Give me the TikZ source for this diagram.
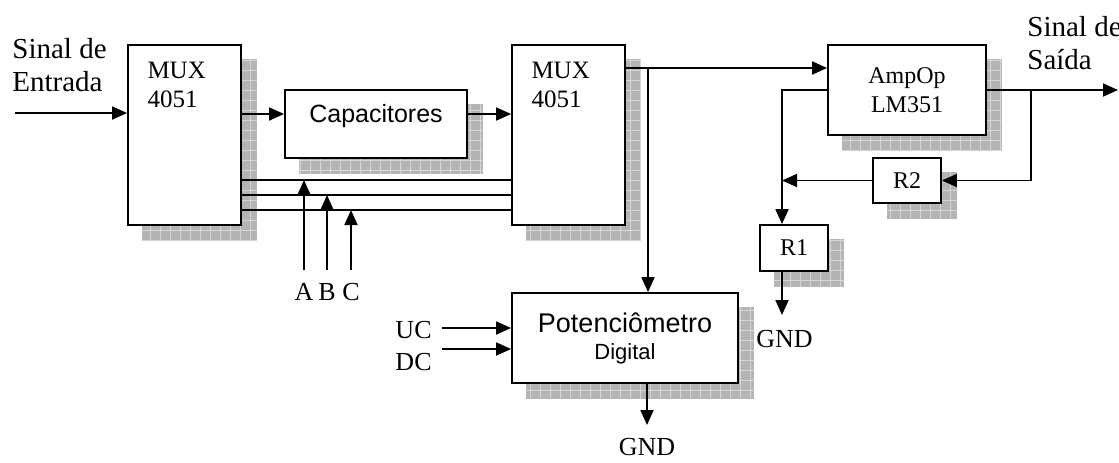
\documentclass[tikz,border=0pt]{standalone}
\usepackage{fontspec}
\setmainfont{Liberation Serif}
\setsansfont{Liberation Sans}
\usetikzlibrary{arrows.meta,backgrounds}
\definecolor{sombracinza}{HTML}{B4B4B4}
\definecolor{gradecinza}{HTML}{D6D6D6}

% sombra quadriculada deslocada atras de um bloco
\newcommand{\sombra}[1]{%
  \fill[sombracinza] ([shift={(7.5pt,-7.5pt)}]#1.south west) rectangle ([shift={(7.5pt,-7.5pt)}]#1.north east);
  \draw[gradecinza, line width=0.4pt, step=5pt] ([shift={(7.5pt,-7.5pt)}]#1.south west) grid ([shift={(7.5pt,-7.5pt)}]#1.north east);
}

\begin{document}
\begin{tikzpicture}[
  x=0.5pt, y=-0.5pt,
  box/.style={draw, fill=white, line width=0.9pt, inner sep=0pt, align=center,
              font=\fontsize{12}{14.5}\selectfont},
  mux/.style={anchor=north west, align=left, inner sep=0pt, xshift=10pt, yshift=-9pt,
              font=\fontsize{12.5}{14.5}\selectfont},
  rot/.style={inner sep=0pt, font=\fontsize{13}{16}\selectfont},
  sinal/.style={inner sep=0pt, align=left, anchor=north west, font=\fontsize{14.5}{16.5}\selectfont},
  fio/.style={line width=0.9pt},
  seta/.style={-{Triangle[length=7.5pt, width=6.5pt]}, line width=0.9pt},
]
\useasboundingbox (0,0) rectangle (1119,462);

% Blocos
\node[box, minimum width=56.5pt, minimum height=90pt,
      label={[mux]north west:MUX\\4051}] (mux1) at (184.5,135) {};
\node[box, font=\sffamily\fontsize{12.5}{15}\selectfont, minimum width=91pt, minimum height=34pt,
      text height=9pt, text depth=11pt] (cap) at (376,124) {Capacitores};
\node[box, minimum width=56.5pt, minimum height=90pt,
      label={[mux]north west:MUX\\4051}] (mux2) at (568.5,135) {};
\node[box, minimum width=79pt, minimum height=45pt] (amp) at (907,90) {AmpOp\\LM351};
\node[box, minimum width=34pt, minimum height=22.5pt] (r2) at (907,180.5) {R2};
\node[box, minimum width=34pt, minimum height=23pt] (r1) at (794,248) {R1};
\node[box, font=\sffamily\fontsize{13.5}{13.5}\selectfont, minimum width=113pt, minimum height=45pt]
  (pot) at (625,338) {Potenci\^ometro\\{\fontsize{11}{13.5}\selectfont Digital}};

% Sombras
\begin{scope}[on background layer]
  \sombra{mux1} \sombra{cap} \sombra{mux2} \sombra{amp} \sombra{r2} \sombra{r1} \sombra{pot}
\end{scope}

% Entrada e saida
\node[sinal] (entt) at (12,38) {Sinal de\\Entrada};
\node[sinal] (saidat) at (1027,16) {Sinal de\\Sa\'ida};
\coordinate (ent) at (15,113);
\draw[seta] (ent) -- (ent -| mux1.west);
\coordinate (c1) at ([yshift=5pt]cap.west);
\draw[seta] (mux1.east |- c1) -- (c1);
\coordinate (c2) at ([yshift=5pt]cap.east);
\draw[seta] (c2) -- (mux2.west |- c2);

% Linhas de selecao A, B, C
\coordinate (sa) at (304,180);
\coordinate (sb) at (327,195);
\coordinate (sc) at (351,210);
\draw[fio] (mux1.east |- sa) -- (mux2.west |- sa);
\draw[fio] (mux1.east |- sb) -- (mux2.west |- sb);
\draw[fio] (mux1.east |- sc) -- (mux2.west |- sc);
\coordinate (a0) at (304,270);
\coordinate (b0) at (327,270);
\coordinate (c0) at (351,270);
\draw[seta] (a0) -- (sa);
\draw[seta] (b0) -- (sb);
\draw[seta] (c0) -- (sc);
\node[rot, anchor=base] (la) at (304,300) {A};
\node[rot, anchor=base] (lb) at (327,300) {B};
\node[rot, anchor=base] (lc) at (351,300) {C};

% MUX -> AmpOp e potenciometro
\coordinate (j1) at (648,68);
\draw[seta] (mux2.east |- j1) -- (amp.west |- j1);
\draw[seta] (j1) -- (pot.north -| j1);

% Saida e realimentacao
\coordinate (s1) at (1031,90);
\coordinate (saida) at (1118,90);
\draw[seta] (amp.east |- s1) -- (saida);
\draw[seta] (s1) |- (r2.east);
\coordinate (f1) at (782,90);
\draw[seta] (amp.west |- f1) -| (r1.north -| f1);
\draw[seta] (r2.west) -- (r2.west -| f1);
\coordinate (g1) at (782,315);
\draw[seta] (r1.south -| g1) -- (g1);
\node[rot, anchor=base west] (gnd1) at (756,347) {GND};

% Controles do potenciometro
\coordinate (uc) at (442,328);
\coordinate (dc) at (442,349);
\draw[seta] (uc) -- (uc -| pot.west);
\draw[seta] (dc) -- (dc -| pot.west);
\node[rot, anchor=base east] (ucl) at (432,338) {UC};
\node[rot, anchor=base east] (dcl) at (432,370) {DC};
\coordinate (g2) at (647,425);
\draw[seta] (pot.south -| g2) -- (g2);
\node[rot, anchor=base] (gnd2) at (647,455) {GND};
\end{tikzpicture}
\end{document}
